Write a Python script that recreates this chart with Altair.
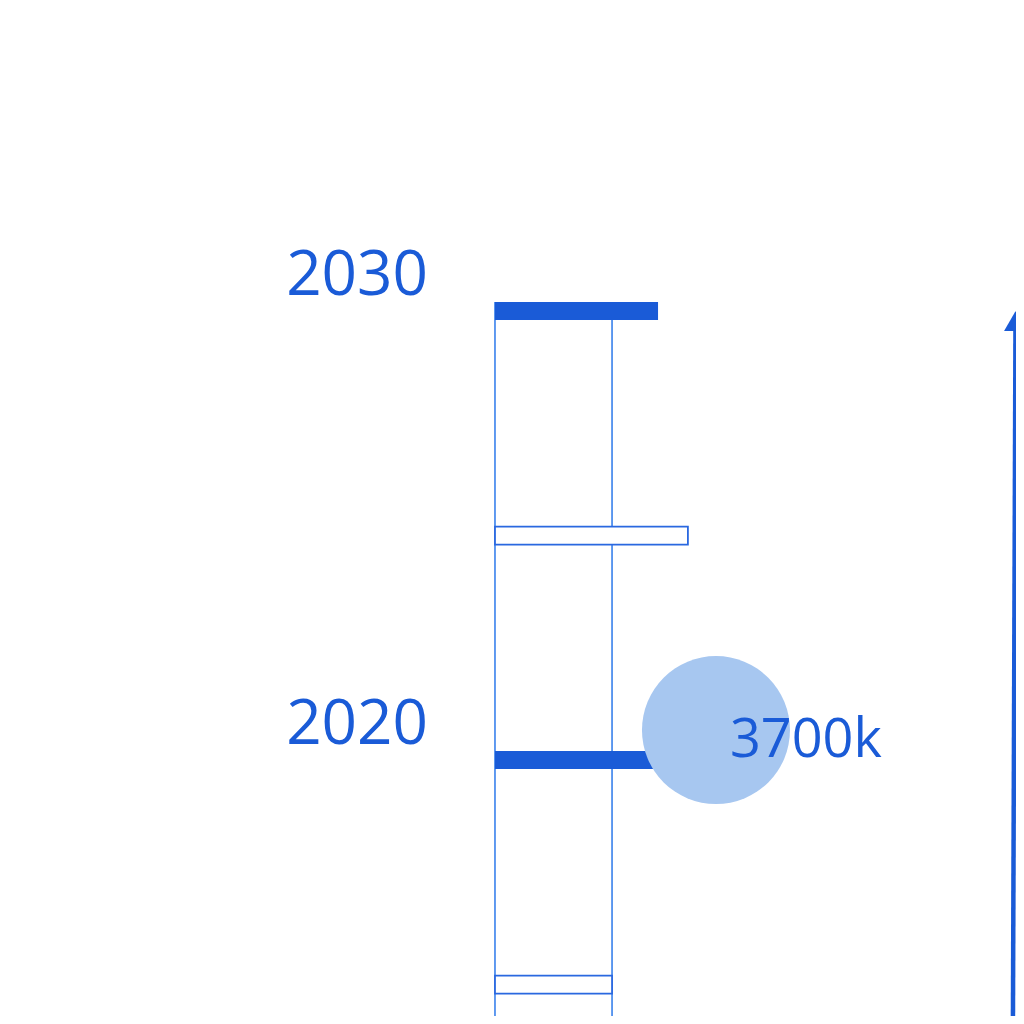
import altair as alt
import pandas as pd

# ─── Data ─────────────────────────────────────────────────────────────────────

years       = [2015, 2020, 2025, 2030]
values_k    = [1960, 3700, 3230, 2730]       # bar length, thousands
filled      = [False, True, False, True]
label_years = [2020, 2030]

bubble_year  = [2020]
bubble_value = [3700]
bubble_text  = ["3700k"]

ref_values = [0, 1960]                       # vertical guide lines

arrow_x   = [8672]                           # bottom of arrow shaft
arrow_x2  = [8714]                           # top of arrow shaft
arrow_top = [2029.6]

BLUE  = "#1a5bd7"
LINE  = "#4f8fee"
LIGHT = "#a7c7f0"
FONT  = "Open Sans"

X_DOM = [-8153, 8723]
Y_DOM = [2014.30, 2036.75]

xs = alt.Scale(domain=X_DOM, nice=False, zero=False)
ys = alt.Scale(domain=Y_DOM, nice=False, zero=False)

bars = pd.DataFrame({
    "year": years,
    "lo": [y - 0.2 for y in years],
    "hi": [y + 0.2 for y in years],
    "start": [0] * len(years),
    "value": values_k,
    "filled": filled,
})
labels = pd.DataFrame({"year": label_years, "label": [str(y) for y in label_years], "x": [0] * len(label_years)})
bubble = pd.DataFrame({"year": bubble_year, "value": bubble_value, "text": bubble_text})
refs = pd.DataFrame({"x": ref_values, "top": [2030.2] * len(ref_values), "bottom": [Y_DOM[0]] * len(ref_values)})
arrow = pd.DataFrame({"x": arrow_x, "x2": arrow_x2, "top": arrow_top, "bottom": [Y_DOM[0]]})

# ─── Layers ───────────────────────────────────────────────────────────────────

guides = alt.Chart(refs).mark_rule(color=LINE, strokeWidth=1.8).encode(
    x=alt.X("x:Q", scale=xs, axis=None),
    y=alt.Y("top:Q", scale=ys, axis=None),
    y2="bottom:Q",
)

solid = alt.Chart(bars[bars["filled"]]).mark_rect(color=BLUE).encode(
    x=alt.X("start:Q", scale=xs, axis=None),
    x2="value:Q",
    y=alt.Y("lo:Q", scale=ys, axis=None),
    y2="hi:Q",
)

hollow = alt.Chart(bars[~bars["filled"]]).mark_rect(fill="white", stroke="#2a68e0", strokeWidth=1.8).encode(
    x=alt.X("start:Q", scale=xs, axis=None),
    x2="value:Q",
    y=alt.Y("lo:Q", scale=ys, axis=None),
    y2="hi:Q",
)

year_labels = alt.Chart(labels).mark_text(
    font=FONT, fontSize=62, color=BLUE, align="right", baseline="alphabetic", dx=-67, dy=-16,
).encode(
    x=alt.X("x:Q", scale=xs, axis=None),
    y=alt.Y("year:Q", scale=ys, axis=None),
    text="label:N",
)

circle = alt.Chart(bubble).mark_circle(color=LIGHT, opacity=1, size=21900, yOffset=-30).encode(
    x=alt.X("value:Q", scale=xs, axis=None),
    y=alt.Y("year:Q", scale=ys, axis=None),
)

circle_text = alt.Chart(bubble).mark_text(
    font=FONT, fontSize=54, color=BLUE, align="left", baseline="alphabetic", dx=14, dy=-3,
).encode(
    x=alt.X("value:Q", scale=xs, axis=None),
    y=alt.Y("year:Q", scale=ys, axis=None),
    text="text:N",
)

shaft = alt.Chart(arrow).mark_rule(color=BLUE, strokeWidth=4.5).encode(
    x=alt.X("x:Q", scale=xs, axis=None),
    x2="x2:Q",
    y=alt.Y("bottom:Q", scale=ys, axis=None),
    y2="top:Q",
)

head = alt.Chart(arrow).mark_point(
    shape="triangle-up", filled=True, color=BLUE, opacity=1, size=520, yOffset=-8,
).encode(
    x=alt.X("x2:Q", scale=xs, axis=None),
    y=alt.Y("top:Q", scale=ys, axis=None),
)

chart = (
    alt.layer(guides, solid, hollow, circle, circle_text, year_labels, shaft, head)
    .properties(width=1008, height=1008, autosize=alt.AutoSizeParams(type="none"), padding=0)
    .configure_view(strokeWidth=0, fill="white")
)

chart.save("out.html", embed_options={"renderer": "svg", "actions": False})
